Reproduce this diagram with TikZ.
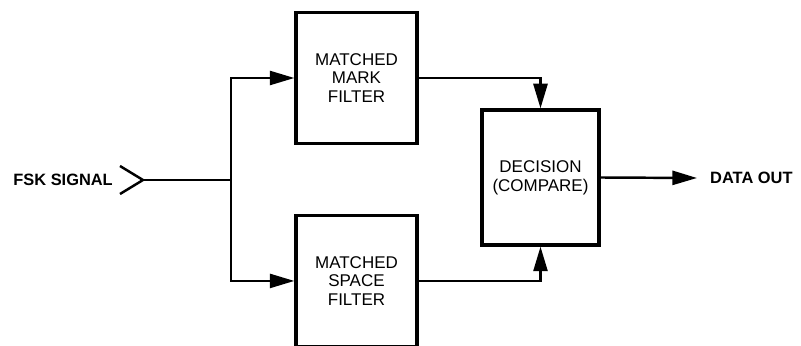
\documentclass[tikz,border=0pt]{standalone}
\usepackage{fontspec}
\setsansfont{Liberation Sans}
\usepackage{tikz}
\usetikzlibrary{arrows.meta, positioning}

\begin{document}
\begin{tikzpicture}[
    x=0.03cm, y=-0.03cm,
    >={Triangle[length=21pt, width=12pt]},
    node distance=2.0cm and 2.4cm,
    block_node/.style={
        rectangle,
        draw=black,
        line width=2.8pt,
        minimum width=#1,
        minimum height=3.93cm,
        align=center,
        inner sep=0pt,
        font=\sffamily\fontsize{14.5}{16}\selectfont
    },
    block_node/.default=3.63cm,
    label_node/.style={
        font=\sffamily\bfseries\fontsize{14}{16}\selectfont,
        inner sep=0pt
    },
    line_main/.style={
        line width=2.1pt
    },
    arrow_main/.style={
        ->,
        line width=2.1pt
    }
]
    \useasboundingbox (0,0) rectangle (801,346);

    % Flowchart Nodes
    \node (mark) [block_node] at (356.5,78) {MATCHED\\MARK\\FILTER};
    \node (space) [block_node, below=2.06cm of mark] {MATCHED\\SPACE\\FILTER};
    \node (dec) [block_node=3.51cm, minimum height=4.05cm] at (540.5,177.5) {DECISION\\(COMPARE)};

    % Input and Output
    \node (fsk) [label_node, anchor=east] at (113,180) {FSK SIGNAL};
    \coordinate (in) at (143,180);
    \coordinate (split) at (231,180);
    \coordinate (out) at (697,178);
    \node (data) [label_node, anchor=west] at (710,178) {DATA OUT};

    \draw [line_main] (120,166) -- (in) -- (120,194);

    % Main Flow Connections
    \draw [line_main] (in) -- (split);
    \draw [arrow_main] (split) |- (mark.west);
    \draw [arrow_main] (split) |- (space.west);
    \draw [arrow_main] (mark.east) -| (dec.north);
    \draw [arrow_main] (space.east) -| (dec.south);
    \draw [arrow_main] (dec.east) -- (out);

\end{tikzpicture}
\end{document}
